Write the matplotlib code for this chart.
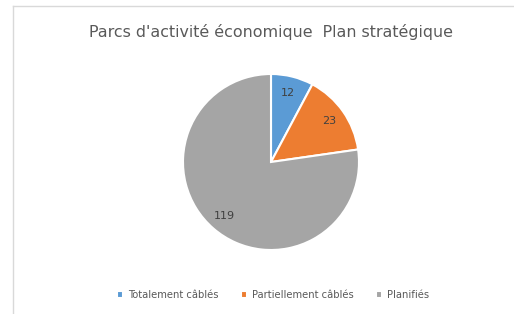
import matplotlib.pyplot as plt
from matplotlib.lines import Line2D

categories = ["Totalement câblés", "Partiellement câblés", "Planifiés"]
values = [12, 23, 119]
colors = ["#5B9BD5", "#ED7D31", "#A5A5A5"]
title = "Parcs d'activité économique  Plan stratégique"

W, H = 514, 314
fig = plt.figure(figsize=(W / 100, H / 100), dpi=100)
fig.patch.set_facecolor("white")

# pie centre ~ (271, 162) px, radius ~88 px
cx, cy, r = 271, 162, 88
ax = fig.add_axes([(cx - r) / W, (H - cy - r) / H, 2 * r / W, 2 * r / H])
wedges, texts = ax.pie(values, colors=colors, startangle=90, counterclock=False,
                       labels=[str(v) for v in values], labeldistance=0.81,
                       wedgeprops=dict(edgecolor="white", linewidth=1.5),
                       textprops=dict(fontsize=8, color="#404040"))
for t in texts:
    t.set_ha("center")
    t.set_va("center")
ax.set_xlim(-1, 1)
ax.set_ylim(-1, 1)
ax.set_aspect("equal")

fig.text(cx / W, 1 - 32 / H, title, ha="center", va="center",
         fontsize=11.4, color="#595959")

fig.legend(wedges, categories, loc="center", bbox_to_anchor=(273 / W, 1 - 295 / H),
           ncol=3, frameon=False, fontsize=7.2, handlelength=0.6, handleheight=0.6,
           handletextpad=0.5, columnspacing=2.2, labelcolor="#595959")

# chart-area border (only top and left visible)
fig.add_artist(Line2D([12.5 / W, 12.5 / W], [0, 1 - 5.5 / H], color="#D9D9D9", lw=1))
fig.add_artist(Line2D([12.5 / W, 1], [1 - 5.5 / H, 1 - 5.5 / H], color="#D9D9D9", lw=1))

fig.savefig("out.png", dpi=100)
